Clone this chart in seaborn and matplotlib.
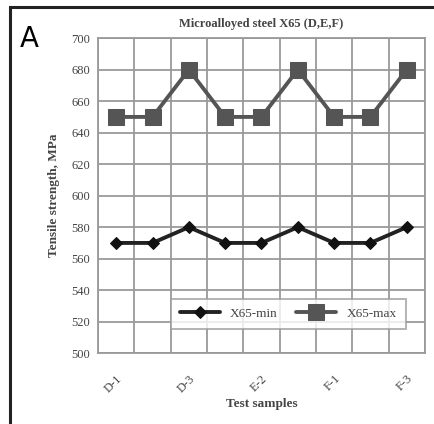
import numpy as np
import pandas as pd
import matplotlib
matplotlib.use("Agg")
import matplotlib.pyplot as plt
import seaborn as sns
from matplotlib.patches import Rectangle

# data
samples = ["D-1", "D-2", "D-3", "E-1", "E-2", "E-3", "F-1", "F-2", "F-3"]
x65_min = [570, 570, 580, 570, 570, 580, 570, 570, 580]
x65_max = [650, 650, 680, 650, 650, 680, 650, 650, 680]

df = pd.DataFrame({"sample": samples, "X65-min": x65_min, "X65-max": x65_max})
df["pos"] = np.arange(len(samples))

sns.set_style("white")
plt.rcParams["font.family"] = ["Liberation Serif", "DejaVu Serif"]

fig = plt.figure(figsize=(4.34, 4.24), dpi=100)
ax = fig.add_axes([0.226, 0.167, 0.753, 0.743])

sns.lineplot(data=df, x="pos", y="X65-min", ax=ax, color="#222222", lw=2.8,
             marker="D", markersize=6, markeredgecolor="#111111",
             markerfacecolor="#111111", label="X65-min")
sns.lineplot(data=df, x="pos", y="X65-max", ax=ax, color="#555555", lw=2.8,
             marker="s", markersize=11, markeredgecolor="#555555",
             markerfacecolor="#555555", label="X65-max")

ax.set_xlim(-0.5, len(samples) - 0.5)
ax.set_ylim(500, 700)
ax.set_yticks(np.arange(500, 701, 20))
ax.set_xticks(df["pos"][::2])
ax.set_xticklabels(samples[::2], rotation=45, ha="right", rotation_mode="anchor")
ax.set_xticks(np.arange(-0.5, len(samples), 1), minor=True)
ax.grid(False)
ax.grid(True, which="minor", axis="x", color="#9a9a9a", lw=1.3)
ax.grid(True, which="major", axis="y", color="#9a9a9a", lw=1.3)
ax.tick_params(axis="both", which="both", length=0, labelsize=9,
               labelcolor="#444444", pad=6)
ax.tick_params(axis="x", pad=14)
for s in ax.spines.values():
    s.set_color("#9a9a9a")
    s.set_linewidth(1.3)

ax.set_xlabel("Test samples", fontsize=9.5, fontweight="bold", color="#444444", labelpad=2)
ax.set_ylabel("Tensile strength, MPa", fontsize=9.5, fontweight="bold",
              color="#444444", labelpad=8)
ax.set_title("Microalloyed steel X65 (D,E,F)", fontsize=9, fontweight="bold",
             color="#444444", pad=8)

leg = ax.legend(loc="lower right", bbox_to_anchor=(0.962, 0.055), ncol=2,
                fontsize=9.5, frameon=True, fancybox=False, handlelength=3.0,
                columnspacing=1.4, borderpad=0.7)
leg.get_frame().set_edgecolor("#9a9a9a")
leg.get_frame().set_linewidth(1.3)
for t in leg.get_texts():
    t.set_color("#444444")

fig.text(0.045, 0.89, "A", fontsize=20, family="DejaVu Sans", color="black")
fig.patches.append(Rectangle((0.024, -0.1), 1.2, 1.083, transform=fig.transFigure,
                             fill=False, edgecolor="#222222", lw=2.2))

fig.savefig("out.png", dpi=100)
